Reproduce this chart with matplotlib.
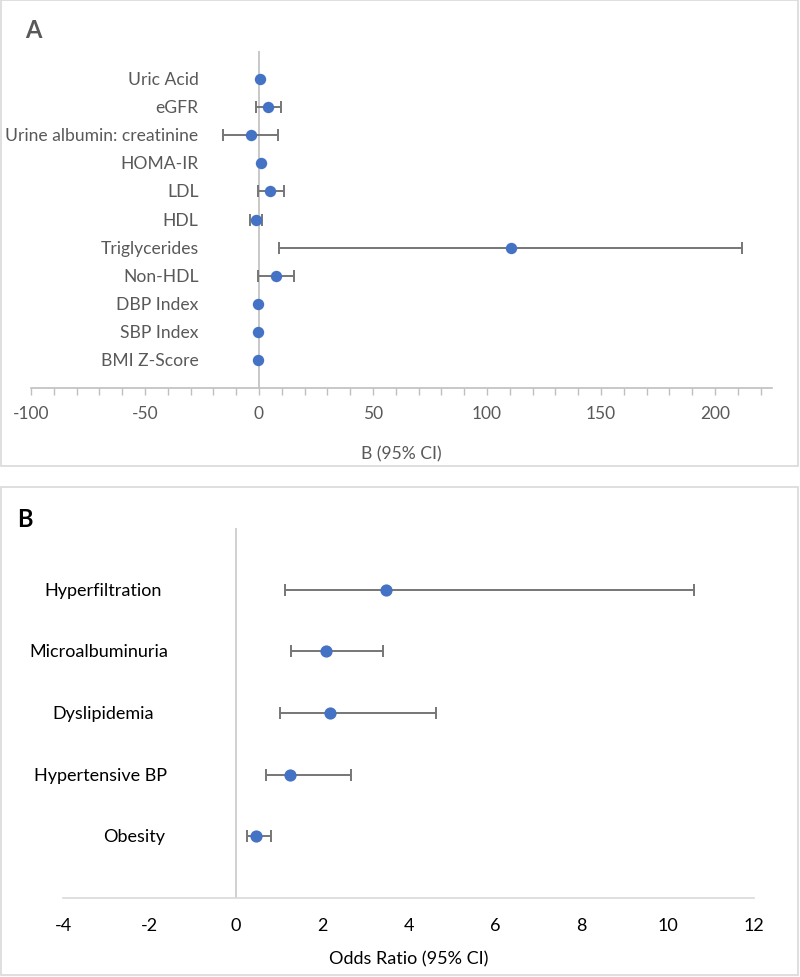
import matplotlib
matplotlib.use("Agg")
import matplotlib.pyplot as plt
from matplotlib.patches import Rectangle

plt.rcParams['font.family'] = ['Lato', 'DejaVu Sans']
plt.rcParams['axes.unicode_minus'] = False

# ---------------- Data ----------------
a_labels = ["Uric Acid", "eGFR", "Urine albumin: creatinine", "HOMA-IR", "LDL", "HDL",
            "Triglycerides", "Non-HDL", "DBP Index", "SBP Index", "BMI Z-Score"]
a_est = [0.3, 4.1, -3.6, 0.7, 5.0, -1.3, 110.4, 7.3, -0.3, -0.3, -0.4]
a_low = [0.3, -1.3, -15.7, 0.7, -0.6, -3.9, 8.9, -0.6, -0.3, -0.3, -0.4]
a_high = [0.3, 9.6, 8.2, 0.7, 10.8, 1.5, 211.8, 15.4, -0.3, -0.3, -0.4]
a_has_ci = [False, True, True, False, True, True, True, True, False, False, False]
a_xticks = [-100, -50, 0, 50, 100, 150, 200]

b_labels = ["Hyperfiltration", "Microalbuminuria", "Dyslipidemia", "Hypertensive BP", "Obesity"]
b_est = [3.49, 2.08, 2.19, 1.26, 0.46]
b_low = [1.14, 1.29, 1.03, 0.69, 0.25]
b_high = [10.62, 3.40, 4.63, 2.67, 0.82]
b_xticks = [-4, -2, 0, 2, 4, 6, 8, 10, 12]

# ---------------- Style ----------------
W, H = 800, 978
fig = plt.figure(figsize=(W / 100, H / 100), dpi=100)
blue = "#4472C4"
errc = "#767676"
grey_txt = "#595959"
axis_c = "#BFBFBF"

def fx(px):
    return px / W

def fy(py):
    return 1 - py / H

# panel frames
for (x0, y0, x1, y1) in [(1, 1, 798, 467), (1, 488, 798, 976)]:
    fig.patches.append(Rectangle((fx(x0), fy(y1)), fx(x1) - fx(x0), fy(y0) - fy(y1),
                                 transform=fig.transFigure, fill=False,
                                 edgecolor="#D9D9D9", linewidth=1.2))

# ---------------- Panel A ----------------
axA = fig.add_axes([fx(31), fy(389), fx(772) - fx(31), fy(52) - fy(389)])
n = len(a_labels)
ya = [n - i for i in range(n)]
axA.set_xlim(-100, 225)
axA.set_ylim(0, 12)
for i in range(n):
    if a_has_ci[i]:
        axA.errorbar(a_est[i], ya[i], xerr=[[a_est[i] - a_low[i]], [a_high[i] - a_est[i]]],
                     fmt="none", ecolor=errc, elinewidth=1.4, capsize=4.2, capthick=1.4, zorder=2)
axA.plot(a_est, ya, "o", color=blue, markersize=8.2, zorder=3, markeredgewidth=0)
axA.axvline(0, color=axis_c, lw=1.2, zorder=1)
for s in ["top", "right", "left"]:
    axA.spines[s].set_visible(False)
axA.spines["bottom"].set_color(axis_c)
axA.spines["bottom"].set_linewidth(1.2)
axA.set_yticks([])
ticks_a = list(range(-100, 230, 10))
axA.set_xticks(ticks_a)
axA.set_xticklabels([str(t) if t in a_xticks else "" for t in ticks_a])
axA.tick_params(axis="x", colors=axis_c, length=5, width=1.0, labelcolor=grey_txt,
                labelsize=12.5, pad=7)
for i in range(n):
    axA.text(-26.5, ya[i], a_labels[i], ha="right", va="center", fontsize=12.6, color=grey_txt)
axA.set_xlabel("B (95% CI)", fontsize=12.6, color=grey_txt, labelpad=18)
axA.patch.set_alpha(0)
fig.text(fx(33), fy(30), "A", fontsize=17, fontweight="bold", color=grey_txt,
         ha="center", va="center")

# ---------------- Panel B ----------------
axB = fig.add_axes([fx(63), fy(899), fx(754) - fx(63), fy(529) - fy(899)])
m = len(b_labels)
yb = [m - i for i in range(m)]
axB.set_xlim(-4, 12)
axB.set_ylim(0, 6)
axB.errorbar(b_est, yb, xerr=[[e - l for e, l in zip(b_est, b_low)],
                              [h - e for e, h in zip(b_est, b_high)]],
             fmt="none", ecolor=errc, elinewidth=1.4, capsize=4.2, capthick=1.4, zorder=2)
axB.plot(b_est, yb, "o", color=blue, markersize=8.8, zorder=3, markeredgewidth=0)
axB.axvline(0, color="#D0D0D0", lw=1.4, zorder=1)
for s in ["top", "right", "left"]:
    axB.spines[s].set_visible(False)
axB.spines["bottom"].set_color("#D9D9D9")
axB.spines["bottom"].set_linewidth(1.2)
axB.set_yticks([])
axB.set_xticks(b_xticks)
axB.tick_params(axis="x", length=0, labelcolor="black", labelsize=13, pad=14)
b_label_x = [-3.08, -3.16, -3.08, -3.13, -2.35]
for i in range(m):
    axB.text(b_label_x[i], yb[i], b_labels[i], ha="center", va="center", fontsize=13,
             color="black")
axB.set_xlabel("Odds Ratio (95% CI)", fontsize=13, color="black", labelpad=12)
axB.patch.set_alpha(0)
fig.text(fx(25), fy(520), "B", fontsize=17, fontweight="bold", color="black",
         ha="center", va="center")

fig.savefig("out.png", dpi=100)
